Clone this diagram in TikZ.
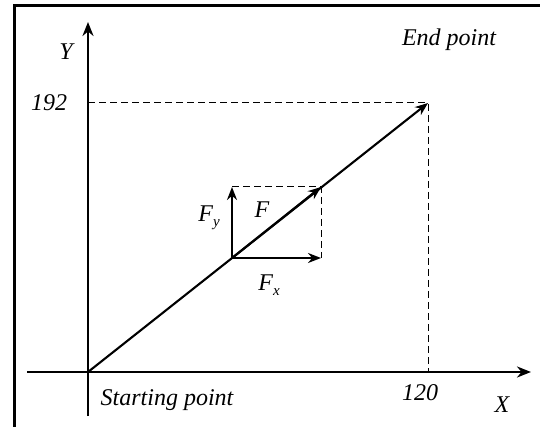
\documentclass[tikz,border=0pt]{standalone}
\usepackage{fontspec}
\setmainfont{Liberation Serif}
\usetikzlibrary{arrows.meta}
\begin{document}
\begin{tikzpicture}[x=1pt,y=-1pt,
  axis/.style={line width=2.4pt,-{Stealth[length=14pt,width=11pt]}},
  vec/.style={line width=2.1pt,-{Stealth[length=13pt,width=10pt]}},
  guide/.style={line width=1pt,dash pattern=on 7pt off 4pt},
  lbl/.style={font=\fontsize{24}{26}\selectfont\itshape,inner sep=0pt}]
\useasboundingbox (0,0) rectangle (540,427);
\draw[line width=3pt] (14,427) -- (14,6) -- (541,6);
\coordinate (O) at (88,372);
\coordinate (P) at (428,103);
\coordinate (XS) at (27,372);
\coordinate (XE) at (531,372);
\coordinate (YS) at (88,416);
\coordinate (YE) at (88,22);
\coordinate (Y192) at (88,103);
\coordinate (X120) at (428,372);
\coordinate (A) at (232,258);
\coordinate (B) at (321,258);
\coordinate (C) at (232,187);
\coordinate (D) at (321,187);
\draw[axis] (XS) -- (XE);
\draw[axis] (YS) -- (YE);
\draw[guide] (Y192) -- (P) -- (X120);
\draw[guide] (C) -- (D) -- (B);
\draw[vec] (O) -- (P);
\draw[vec] (A) -- (D);
\draw[vec] (A) -- (C);
\draw[vec] (A) -- (B);
\node[lbl] (ly) at (66,52) {Y};
\node[lbl] (lx) at (502,405) {X};
\node[lbl] (l192) at (49,103) {192};
\node[lbl] (l120) at (420,393) {120};
\node[lbl] (lend) at (449,40) {End point};
\node[lbl] (lstart) at (167,400) {Starting point};
\node[lbl] (lF) at (262,210) {F};
\node[lbl] (lFy) at (209,218) {F\raisebox{-5pt}{\fontsize{15}{17}\selectfont y}};
\node[lbl] (lFx) at (269,285) {F\raisebox{-5pt}{\fontsize{15}{17}\selectfont x}};
\end{tikzpicture}
\end{document}
